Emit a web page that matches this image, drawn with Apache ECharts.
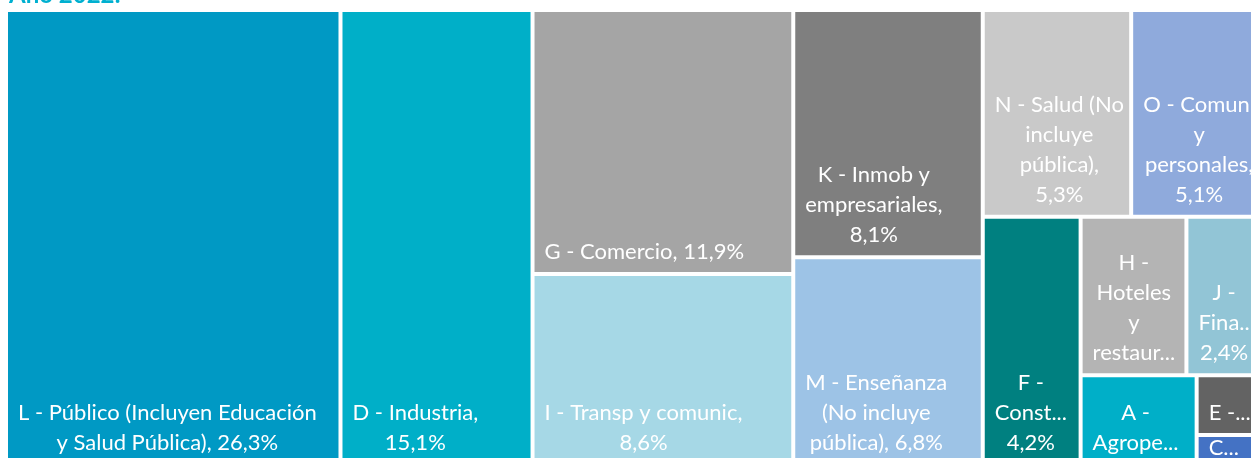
<!DOCTYPE html>
<html>
<head>
<meta charset="utf-8">
<script src="https://cdn.jsdelivr.net/npm/echarts@6/dist/echarts.min.js"></script>
<style>
html,body{margin:0;padding:0;background:#fff;}
#chart{width:1251px;height:458px;}
</style>
</head>
<body>
<div id="chart"></div>
<script>
// ---- data ----
const titleText = 'Año 2022:';
const sectors = [
  'L - Público (Incluyen Educación y Salud Pública)',
  'D - Industria',
  'G - Comercio',
  'I - Transp y comunic',
  'K - Inmob y empresariales',
  'M - Enseñanza (No incluye pública)',
  'N - Salud (No incluye pública)',
  'O - Comuni y personales',
  'F - Construcción',
  'H - Hoteles y restaurantes',
  'J - Financieras',
  'A - Agropecuario',
  'E - Electricidad, gas y agua',
  'C - Minería',
  'B - Pesca'
];
const shares = [26.3, 15.1, 11.9, 8.6, 8.1, 6.8, 5.3, 5.1, 4.2, 2.9, 2.4, 1.8, 0.8, 0.3, 0.1];
// label text as displayed (wrapped / truncated as in the picture)
const shownLabels = [
  'L - Público (Incluyen Educación\ny Salud Pública), 26,3%',
  'D - Industria,\n15,1%',
  'G - Comercio, 11,9%',
  'I - Transp y comunic,\n8,6%',
  'K - Inmob y\nempresariales,\n8,1%',
  'M - Enseñanza\n(No incluye\npública), 6,8%',
  'N - Salud (No\nincluye\npública),\n5,3%',
  'O - Comuni\ny\npersonales,\n5,1%',
  'F -\nConst...\n4,2%',
  'H -\nHoteles\ny\nrestaur...',
  'J -\nFina..\n2,4%',
  'A -\nAgrope...',
  'E -...',
  'C...',
  'B...'
];
// grouping of sector indices, matching the tile arrangement
const grouping = [0, 1, [2, 3], [4, 5], [[6, 7], [8, [[9, 10], [11, [12, [13, 14]]]]]]];

// ---- styles ----
const colors = ['#0099C4', '#00AFC8', '#A5A5A5', '#A6D8E6', '#7F7F7F', '#9DC3E6', '#C9C9C9',
  '#8FAADC', '#008080', '#B4B4B4', '#92C5D6', '#00AFC8', '#636363', '#4472C4', '#2F5597'];
const FONT = 'Lato';
const FS = 22;
const LH = 30;

const ctx = document.createElement('canvas').getContext('2d');
ctx.font = FS + 'px ' + FONT;
function blockWidth(t) {
  return Math.max.apply(null, t.split('\n').map(l => ctx.measureText(l).width));
}

function leaf(i) {
  const small = i >= 13;
  return {
    name: sectors[i],
    value: shares[i],
    itemStyle: { color: colors[i], borderWidth: 2, borderColor: '#fff', gapWidth: 0 },
    label: {
      formatter: shownLabels[i],
      position: [10 + blockWidth(shownLabels[i]) / 2, '100%'],
      lineHeight: small ? 20 : LH
    }
  };
}
function build(node) {
  if (Array.isArray(node)) {
    const children = node.map(build);
    const v = children.reduce((s, c) => s + c.value, 0);
    return { name: '', value: v, children: children,
      itemStyle: { borderWidth: 0, gapWidth: 0, borderColor: '#fff' } };
  }
  return leaf(node);
}
const treeData = grouping.map(build);

const chart = echarts.init(document.getElementById('chart'));
chart.setOption({
  animation: false,
  title: {
    text: titleText, left: 4, top: -22,
    textStyle: { fontSize: 24, fontWeight: 'bold', color: '#00B0D0', fontFamily: FONT }
  },
  series: [{
    type: 'treemap',
    left: 6, top: 10, width: 1268, height: 455,
    sort: false,
    squareRatio: 0.0001,
    roam: false,
    nodeClick: false,
    breadcrumb: { show: false },
    leafDepth: null,
    visibleMin: 0,
    itemStyle: { borderWidth: 0, gapWidth: 0, borderColor: '#fff' },
    label: {
      show: true,
      color: '#fff',
      fontFamily: FONT,
      fontSize: FS,
      lineHeight: LH,
      align: 'center',
      verticalAlign: 'bottom',
      padding: [0, 0, 5, 0],
      overflow: 'none'
    },
    upperLabel: { show: false },
    emphasis: { disabled: true },
    data: treeData
  }]
});
</script>
</body>
</html>
